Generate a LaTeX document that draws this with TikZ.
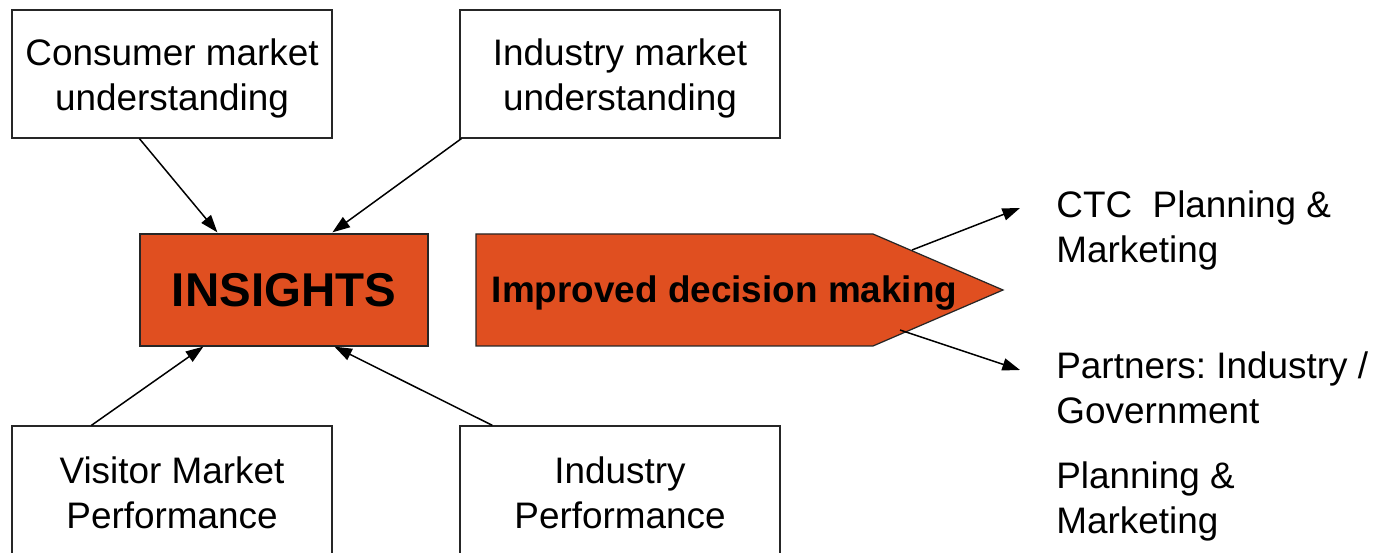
\documentclass[tikz,border=0pt]{standalone}
\usepackage{fontspec}
\setmainfont{Liberation Sans}
\usetikzlibrary{arrows.meta,calc}
\definecolor{insorange}{RGB}{224,79,32}
\begin{document}
\frenchspacing
\begin{tikzpicture}[x=0.02cm,y=-0.02cm,
  txt/.style={font=\fontsize{21}{25.6}\selectfont},
  wbox/.style={draw=black!85,line width=0.7pt,fill=white,minimum width=320*0.02cm,inner sep=0pt},
  btxt/.style={align=center,inner sep=0pt,txt},
  conn/.style={line width=0.85pt,-{Triangle[length=10pt,width=7pt]}},
  lab/.style={anchor=west,align=left,inner sep=0pt,txt}]
\useasboundingbox (0,0) rectangle (1383,553);
\clip (0,0) rectangle (1383,553);
% top boxes
\node[wbox,minimum height=128*0.02cm] (consumer) at (172,74) {};
\node[btxt] (consumerT) at (172,78.5) {Consumer market\\understanding};
\node[wbox,minimum height=128*0.02cm] (indmkt) at (620,74) {};
\node[btxt] (indmktT) at (620,78.5) {Industry market\\understanding};
% bottom boxes (cut by the edge)
\node[wbox,minimum height=130*0.02cm] (visitor) at (172,491) {};
\node[btxt] (visitorT) at (172,493) {Visitor Market\\Performance};
\node[wbox,minimum height=130*0.02cm] (indperf) at (620,491) {};
\node[btxt] (indperfT) at (620,493) {Industry\\Performance};
% insights
\node[draw=black!85,line width=0.7pt,fill=insorange,minimum width=288*0.02cm,minimum height=112*0.02cm,
  font=\fontsize{27}{30}\selectfont\bfseries] (insights) at (284,290) {INSIGHTS};
% arrow shape
\filldraw[draw=black!85,line width=0.7pt,fill=insorange] (476,234) -- (873,234) -- (1003,290) -- (873,346) -- (476,346) -- cycle;
\node[font=\fontsize{21}{25}\selectfont\bfseries,inner sep=0pt] (idm) at (724.5,293) {Improved decision making};
\coordinate (tipup) at (912,250);
\coordinate (tipdn) at (900,330);
% right labels
\node[lab] (ctc) at (1056,230) {CTC\ \ Planning \&\\Marketing};
\node[lab] (partners) at (1056,388) {Partners: Industry /\\Government};
\node[lab] (plan) at (1056,501) {Planning \&\\Marketing};
% connectors
\draw[conn] ($(consumer.south west)+(128,0)$) -- ($(insights.north west)+(78,-1)$);
\draw[conn] ($(indmkt.south west)+(2,0)$) -- ($(insights.north west)+(193,-1)$);
\draw[conn] ($(visitor.north west)+(80,0)$) -- ($(insights.south west)+(64,0)$);
\draw[conn] ($(indperf.north west)+(33,0)$) -- ($(insights.south west)+(195,0)$);
\draw[conn] (tipup) -- (1020,208);
\draw[conn] (tipdn) -- (1020,370);
\end{tikzpicture}
\end{document}
